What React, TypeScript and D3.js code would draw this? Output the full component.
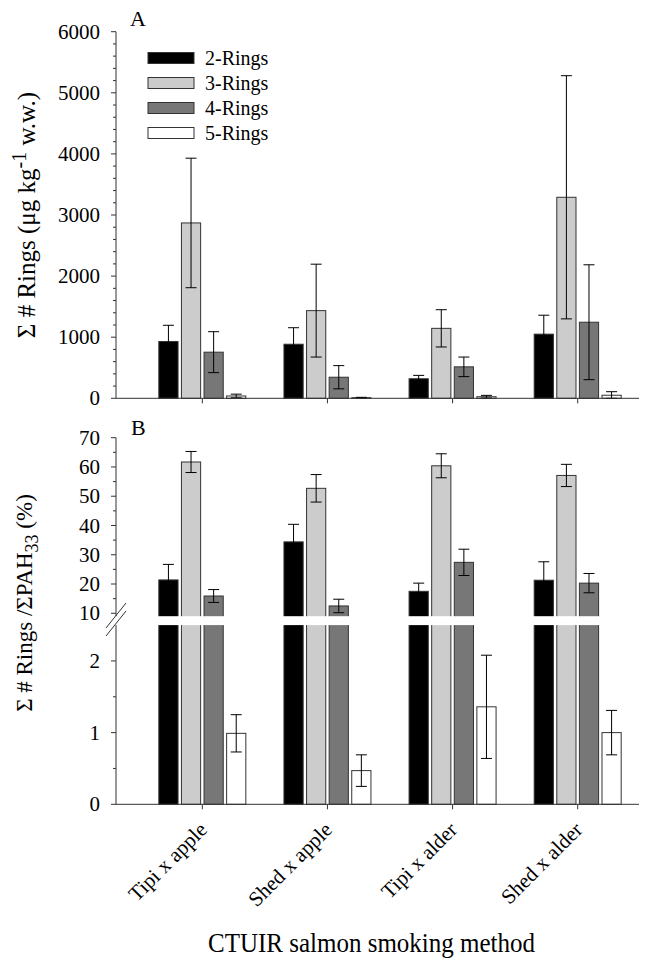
import * as d3 from "d3";

const categories = ["Tipi x apple", "Shed x apple", "Tipi x alder", "Shed x alder"];
const seriesNames = ["2-Rings", "3-Rings", "4-Rings", "5-Rings"];
const seriesFill = ["#000000", "#cccccc", "#777777", "#ffffff"];

// panel A: sum of rings, ug/kg w.w. (mean, error)
const ringsA2 = [930, 885, 320, 1050];
const errA2 = [265, 270, 55, 310];
const ringsA3 = [2870, 1435, 1145, 3290];
const errA3 = [1060, 760, 305, 1990];
const ringsA4 = [755, 345, 515, 1245];
const errA4 = [335, 190, 160, 940];
const ringsA5 = [38, 10, 26, 50];
const errA5 = [30, 6, 22, 58];

// panel B: percent of sum PAH33
const pctB2 = [21.4, 34.4, 17.5, 21.3];
const errB2 = [5.3, 6.0, 2.8, 6.3];
const pctB3 = [61.7, 52.7, 60.4, 57.1];
const errB3 = [3.6, 4.7, 4.1, 3.8];
const pctB4 = [15.9, 12.5, 27.4, 20.3];
const errB4 = [2.2, 2.3, 4.5, 3.3];
const pctB5 = [0.99, 0.47, 1.36, 1.0];
const errB5 = [0.26, 0.22, 0.72, 0.31];

const ticksA = [0, 1000, 2000, 3000, 4000, 5000, 6000];
const ticksBHigh = [10, 20, 30, 40, 50, 60, 70];
const ticksBLow = [0, 1, 2];

const FONT = "'Liberation Serif', 'Times New Roman', serif";
const AXIS = "#333";

const valuesA = [ringsA2, ringsA3, ringsA4, ringsA5];
const errorsA = [errA2, errA3, errA4, errA5];
const valuesB = [pctB2, pctB3, pctB4, pctB5];
const errorsB = [errB2, errB3, errB4, errB5];

const x = d3.scaleLinear().domain([-0.69, 3.49]).range([116, 639]);
const inner = d3.scaleBand<string>().domain(seriesNames).range([-43.5, 43.5]).paddingInner(0.15);

const yA = d3.scaleLinear().domain([0, 6000]).range([398.3, 31.7]);
const yBLow = d3.scaleLinear().domain([0, 2.5]).range([804.3, 625.1]);
const yBHigh = d3.scaleLinear().domain([9, 70]).range([616.2, 437.7]);
const yB = (v: number) => (v <= 2.5 ? yBLow(v) : yBHigh(Math.max(v, 9)));

function Bars({ values, errors, y, base }: { values: number[][]; errors: number[][]; y: (v: number) => number; base: number }) {
  const bw = inner.bandwidth();
  return (
    <g>
      {values.map((vals, s) =>
        vals.map((v, i) => {
          const bx = x(i) + (inner(seriesNames[s]) as number);
          const top = y(v);
          return (
            <rect key={`b${s}-${i}`} x={bx} y={top} width={bw} height={base - top}
              fill={seriesFill[s]} stroke="#333" strokeWidth={1} />
          );
        })
      )}
      {values.map((vals, s) =>
        vals.map((v, i) => {
          const cx = x(i) + (inner(seriesNames[s]) as number) + bw / 2;
          const e = errors[s][i];
          const y1 = y(v + e);
          const y0 = y(Math.max(v - e, 0));
          return (
            <g key={`e${s}-${i}`} stroke="#000" strokeWidth={1}>
              <line x1={cx} x2={cx} y1={y1} y2={y0} />
              <line x1={cx - 5.5} x2={cx + 5.5} y1={y1} y2={y1} />
              <line x1={cx - 5.5} x2={cx + 5.5} y1={y0} y2={y0} />
            </g>
          );
        })
      )}
    </g>
  );
}

function YTicks({ major, minor, y }: { major: number[]; minor: number[]; y: (v: number) => number }) {
  return (
    <g>
      {minor.map((t) => (
        <line key={`m${t}`} x1={113} x2={116} y1={y(t)} y2={y(t)} stroke={AXIS} />
      ))}
      {major.map((t) => (
        <g key={`t${t}`}>
          <line x1={111} x2={116} y1={y(t)} y2={y(t)} stroke={AXIS} />
          <text x={100} y={y(t)} dy="0.34em" textAnchor="end" fontSize={21} fontFamily={FONT}>{String(t)}</text>
        </g>
      ))}
    </g>
  );
}

export default function App() {
  const minorA = d3.range(0, 6001, 200).filter((t) => t % 1000 !== 0);
  const minorBHigh = d3.range(15, 70, 10);
  const minorBLow = [0.5, 1.5];
  return (
    <div style={{ position: "absolute", left: 0, top: 0 }}>
      <svg width={649} height={965} style={{ display: "block", background: "#fff" }}>
        {/* Panel A */}
        <text x={130} y={26} fontSize={22} fontFamily={FONT}>A</text>
        <Bars values={valuesA} errors={errorsA} y={yA} base={yA(0)} />
        <line x1={116} x2={116} y1={yA(6000)} y2={yA(0)} stroke={AXIS} />
        <line x1={116} x2={639} y1={yA(0)} y2={yA(0)} stroke={AXIS} />
        <YTicks major={ticksA} minor={minorA} y={yA} />
        {categories.map((c, i) => (
          <line key={c} x1={x(i)} x2={x(i)} y1={yA(0)} y2={yA(0) + 5} stroke={AXIS} />
        ))}
        {seriesNames.map((s, k) => (
          <g key={s}>
            <rect x={148} y={52.5 + k * 25} width={46} height={11} fill={seriesFill[k]} stroke="#333" />
            <text x={205} y={58 + k * 25} dy="0.34em" fontSize={20} fontFamily={FONT}>{s}</text>
          </g>
        ))}
        <text transform="translate(35,215) rotate(-90)" textAnchor="middle" fontSize={25} fontFamily={FONT}>
          Σ # Rings (μg kg<tspan dy={-9} fontSize={20}>-1</tspan><tspan dy={9}> w.w.)</tspan>
        </text>

        {/* Panel B, broken y axis */}
        <text x={131} y={435} fontSize={22} fontFamily={FONT}>B</text>
        <Bars values={valuesB} errors={errorsB} y={yB} base={yBLow(0)} />
        <rect x={117} y={616.2} width={522} height={8.9} fill="#fff" />
        <line x1={116} x2={116} y1={yBHigh(70)} y2={yBHigh(9)} stroke={AXIS} />
        <line x1={116} x2={116} y1={yBLow(2.5)} y2={yBLow(0)} stroke={AXIS} />
        <line x1={106} x2={126} y1={628} y2={603} stroke={AXIS} />
        <line x1={106} x2={126} y1={636} y2={611} stroke={AXIS} />
        <line x1={116} x2={639} y1={yBLow(0)} y2={yBLow(0)} stroke={AXIS} />
        <YTicks major={ticksBHigh} minor={minorBHigh} y={yBHigh} />
        <YTicks major={ticksBLow} minor={minorBLow} y={yBLow} />
        {categories.map((c, i) => (
          <g key={c}>
            <line x1={x(i)} x2={x(i)} y1={yBLow(0)} y2={yBLow(0) + 5} stroke={AXIS} />
            <text transform={`translate(${x(i) + 6},831) rotate(-45)`} textAnchor="end" fontSize={21} fontFamily={FONT}>{c}</text>
          </g>
        ))}
        <text transform="translate(32,603) rotate(-90)" textAnchor="middle" fontSize={23} fontFamily={FONT}>
          Σ # Rings /ΣPAH<tspan dy={6} fontSize={18}>33</tspan><tspan dy={-6}> (%)</tspan>
        </text>

        <text x={208} y={952} textLength={327} lengthAdjust="spacingAndGlyphs" fontSize={27} fontFamily={FONT}>
          CTUIR salmon smoking method
        </text>
      </svg>
    </div>
  );
}
